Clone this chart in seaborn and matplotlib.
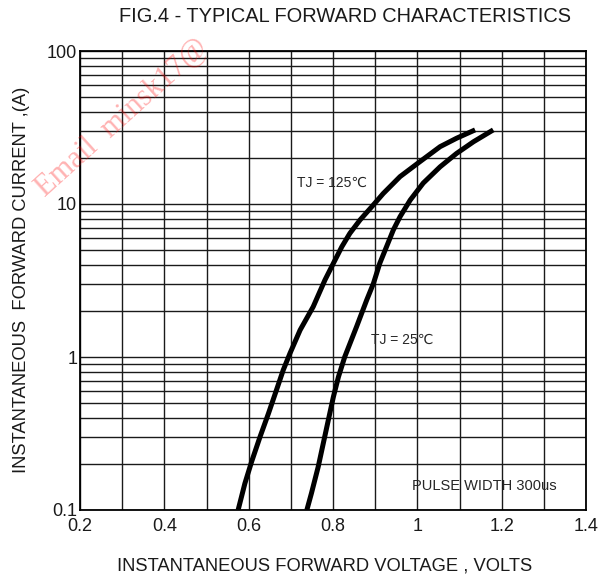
import numpy as np
import pandas as pd
import seaborn as sns
import matplotlib
matplotlib.use("Agg")
import matplotlib.pyplot as plt
from matplotlib.ticker import FixedLocator, LogLocator, NullFormatter

## data
v_25 = [0.738, 0.749, 0.765, 0.777, 0.789, 0.801, 0.813, 0.828, 0.856, 0.880, 0.896,
        0.911, 0.927, 0.943, 0.959, 0.983, 1.014, 1.054, 1.093, 1.133, 1.180]
i_25 = [0.10, 0.129, 0.192, 0.273, 0.388, 0.55, 0.743, 1.005, 1.58, 2.36, 3.03,
        4.10, 5.26, 6.76, 8.26, 10.6, 13.7, 17.5, 21.4, 25.5, 30.5]

v_125 = [0.575, 0.591, 0.607, 0.627, 0.647, 0.666, 0.682, 0.698, 0.722, 0.753,
         0.781, 0.801, 0.821, 0.840, 0.864, 0.892, 0.919, 0.959, 1.006, 1.054, 1.093, 1.137]
i_125 = [0.10, 0.149, 0.207, 0.301, 0.428, 0.609, 0.822, 1.057, 1.50, 2.13,
         3.19, 4.10, 5.26, 6.43, 7.86, 9.60, 11.7, 15.1, 18.9, 23.7, 26.9, 30.5]

x_ticks = [0.2, 0.4, 0.6, 0.8, 1.0, 1.2, 1.4]
x_ticklabels = ["0.2", "0.4", "0.6", "0.8", "1", "1.2", "1.4"]
y_ticks = [0.1, 1, 10, 100]
y_ticklabels = ["0.1", "1", "10", "100"]

df = pd.concat([
    pd.DataFrame({"V": v_25, "I": i_25, "Tj": "25"}),
    pd.DataFrame({"V": v_125, "I": i_125, "Tj": "125"}),
])

sns.set_style("white")
fam = ["Liberation Sans", "DejaVu Sans"]
plt.rcParams["font.family"] = fam

fig = plt.figure(figsize=(6.05, 5.78), dpi=100)
ax = fig.add_axes([80 / 605, 1 - 510 / 578, 506 / 605, 459 / 578])

sns.lineplot(data=df, x="V", y="I", units="Tj", estimator=None, sort=False,
             color="black", linewidth=3.6, ax=ax, legend=False,
             solid_joinstyle="round", solid_capstyle="butt")

ax.set_yscale("log")
ax.set_xlim(0.2, 1.4)
ax.set_ylim(0.1, 100)

# grid: every 0.1 V, log minor lines
ax.xaxis.set_major_locator(FixedLocator(x_ticks))
ax.xaxis.set_minor_locator(FixedLocator(np.arange(0.3, 1.4, 0.2)))
ax.set_xticklabels(x_ticklabels)
ax.yaxis.set_major_locator(FixedLocator(y_ticks))
ax.yaxis.set_minor_locator(LogLocator(base=10, subs=range(2, 10)))
ax.yaxis.set_minor_formatter(NullFormatter())
ax.set_yticklabels(y_ticklabels)
ax.grid(True, which="both", color="#1a1a1a", linewidth=1.0)
ax.set_axisbelow(True)
ax.tick_params(which="both", length=0, labelsize=13, colors="#1a1a1a")
ax.tick_params(axis="x", pad=6)
ax.tick_params(axis="y", pad=2)
ax.set_xlabel("")
ax.set_ylabel("")

for s in ax.spines.values():
    s.set_color("black")
    s.set_linewidth(1.3)

fig.text(325 / 605, 1 - 566 / 578, "INSTANTANEOUS FORWARD VOLTAGE , VOLTS",
         ha="center", va="center", fontsize=13.2, color="#1a1a1a")
fig.text(22 / 605, 1 - 280 / 578, "INSTANTANEOUS  FORWARD CURRENT ,(A)",
         ha="center", va="center", rotation=90, fontsize=13.2, color="#1a1a1a")
fig.text(345 / 605, 1 - 16 / 578, "FIG.4 - TYPICAL FORWARD CHARACTERISTICS",
         ha="center", va="center", fontsize=14.4, color="#1a1a1a")

ax.text(0.429, 0.712, "TJ = 125\u2103", transform=ax.transAxes, fontsize=10,
        va="center", family=fam)
ax.text(0.575, 0.37, "TJ = 25\u2103", transform=ax.transAxes, fontsize=10,
        va="center", family=fam)
ax.text(0.656, 0.052, "PULSE WIDTH 300us", transform=ax.transAxes, fontsize=10.5,
        va="center", family=fam)

# faint watermark
fig.text(122 / 605, 1 - 118 / 578, "Email  minsk17@", rotation=42, color="red",
         alpha=0.3, fontsize=22, family=["Liberation Serif", "DejaVu Serif"],
         ha="center", va="center")

fig.savefig("out.png", dpi=100)
